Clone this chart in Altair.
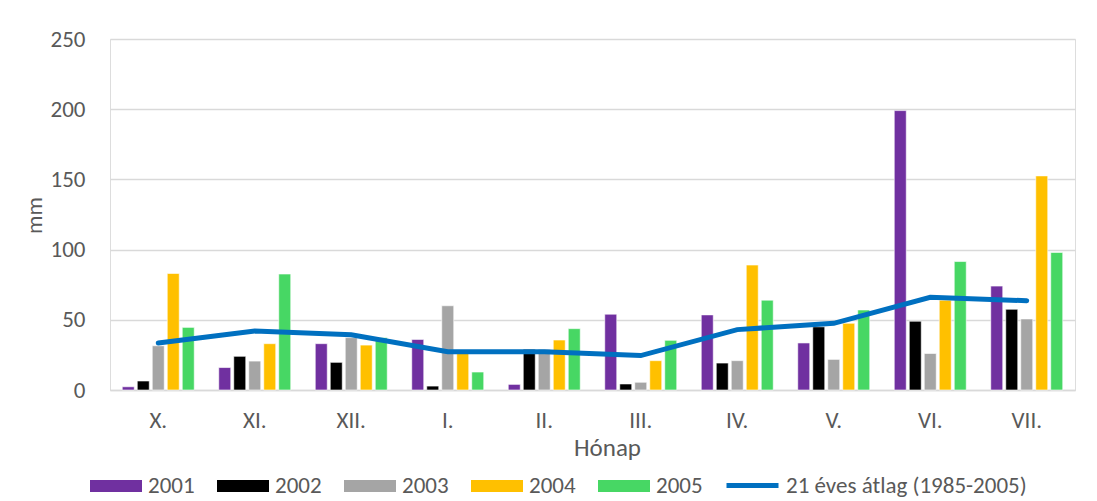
import altair as alt
import pandas as pd

months = ["X.", "XI.", "XII.", "I.", "II.", "III.", "IV.", "V.", "VI.", "VII."]
years = ["2001", "2002", "2003", "2004", "2005"]
v2001 = [2.3, 16, 33, 36, 4, 54, 53.5, 33.5, 199, 74]
v2002 = [6.4, 24, 19.7, 2.8, 29, 4.3, 19.2, 45, 49, 57.5]
v2003 = [31.5, 20.6, 37.3, 60, 29, 5.5, 20.9, 21.8, 26, 50.6]
v2004 = [83, 33, 32, 26, 35.6, 20.9, 89, 47.5, 64, 152.5]
v2005 = [44.6, 82.6, 37.3, 12.8, 43.7, 35.4, 64, 57, 91.5, 98]
avg = [33.5, 42, 39.3, 27.3, 27.3, 24.5, 43, 47.5, 66, 63.6]
avg_name = "21 éves átlag (1985-2005)"

bar_colors = ["#7030a0", "#000000", "#a5a5a5", "#ffc000", "#47d764"]
line_color = "#0070c0"
FONT = "Carlito, Calibri, Open Sans, Liberation Sans, sans-serif"
TXT = "#595959"
FS = 23

rows = []
for y, vals in zip(years, [v2001, v2002, v2003, v2004, v2005]):
    for m, v in zip(months, vals):
        rows.append({"Hónap": m, "Év": y, "mm": v})
bars_df = pd.DataFrame(rows)
line_df = pd.DataFrame({"Hónap": months, "mm": avg, "sorozat": [avg_name] * len(months)})

xscale = alt.Scale(domain=months, paddingInner=0.254, paddingOuter=0.127)
yscale = alt.Scale(domain=[0, 250])

xaxis = alt.Axis(
    title="Hónap", labelAngle=0, labelFontSize=FS, labelColor=TXT, labelFont=FONT,
    labelPadding=19, ticks=False, domainColor="#d9d9d9", domainWidth=1.5,
    titleFontSize=25, titleColor=TXT, titleFont=FONT, titleFontWeight="normal",
    titleX=497, titleY=57, titleBaseline="middle", titleAlign="center",
)
yaxis = alt.Axis(
    title="mm", values=[0, 50, 100, 150, 200, 250], labelFontSize=FS, labelColor=TXT,
    labelFont=FONT, labelPadding=25, ticks=False, domain=False, gridColor="#d9d9d9",
    gridWidth=1.3, titleFontSize=FS, titleColor=TXT, titleFont=FONT,
    titleFontWeight="normal", titleX=-76, titleY=176, titleAngle=270,
    titleBaseline="middle", titleAlign="center",
)

bars = alt.Chart(bars_df).mark_bar(stroke="white", strokeWidth=0.6).encode(
    x=alt.X("Hónap:N", scale=xscale, axis=xaxis, sort=months),
    xOffset=alt.XOffset("Év:N", scale=alt.Scale(paddingInner=0.2, paddingOuter=0)),
    y=alt.Y("mm:Q", scale=yscale, axis=yaxis),
    color=alt.Color(
        "Év:N",
        scale=alt.Scale(domain=years, range=bar_colors),
        legend=alt.Legend(
            title=None, orient="none", direction="horizontal", legendX=-20, legendY=421,
            symbolType="M-1,-0.235H1V0.235H-1Z", symbolSize=2704, symbolStrokeWidth=0,
            symbolOpacity=1, labelFontSize=FS, labelFont=FONT, labelColor=TXT,
            labelOffset=6, columnPadding=22, labelLimit=0,
        ),
    ),
)

line = alt.Chart(line_df).mark_line(strokeWidth=5, strokeCap="round").encode(
    x=alt.X("Hónap:N", scale=xscale, sort=months),
    y=alt.Y("mm:Q", scale=yscale),
    stroke=alt.Stroke(
        "sorozat:N",
        scale=alt.Scale(domain=[avg_name], range=[line_color]),
        legend=alt.Legend(
            title=None, orient="none", direction="horizontal", legendX=614, legendY=418,
            symbolType="stroke", symbolSize=2704, symbolStrokeWidth=5,
            labelFontSize=FS, labelFont=FONT, labelColor=TXT, labelOffset=5,
            labelLimit=0,
        ),
    ),
)

chart = alt.layer(bars, line).resolve_scale(color="independent").properties(
    width=965, height=351,
    autosize=alt.AutoSizeParams(type="none"),
    padding={"left": 102, "top": 31, "right": 14, "bottom": 108},
).configure_view(stroke=None).configure(background="white")

chart.save("out.html", embed_options={"renderer": "svg", "actions": False})
